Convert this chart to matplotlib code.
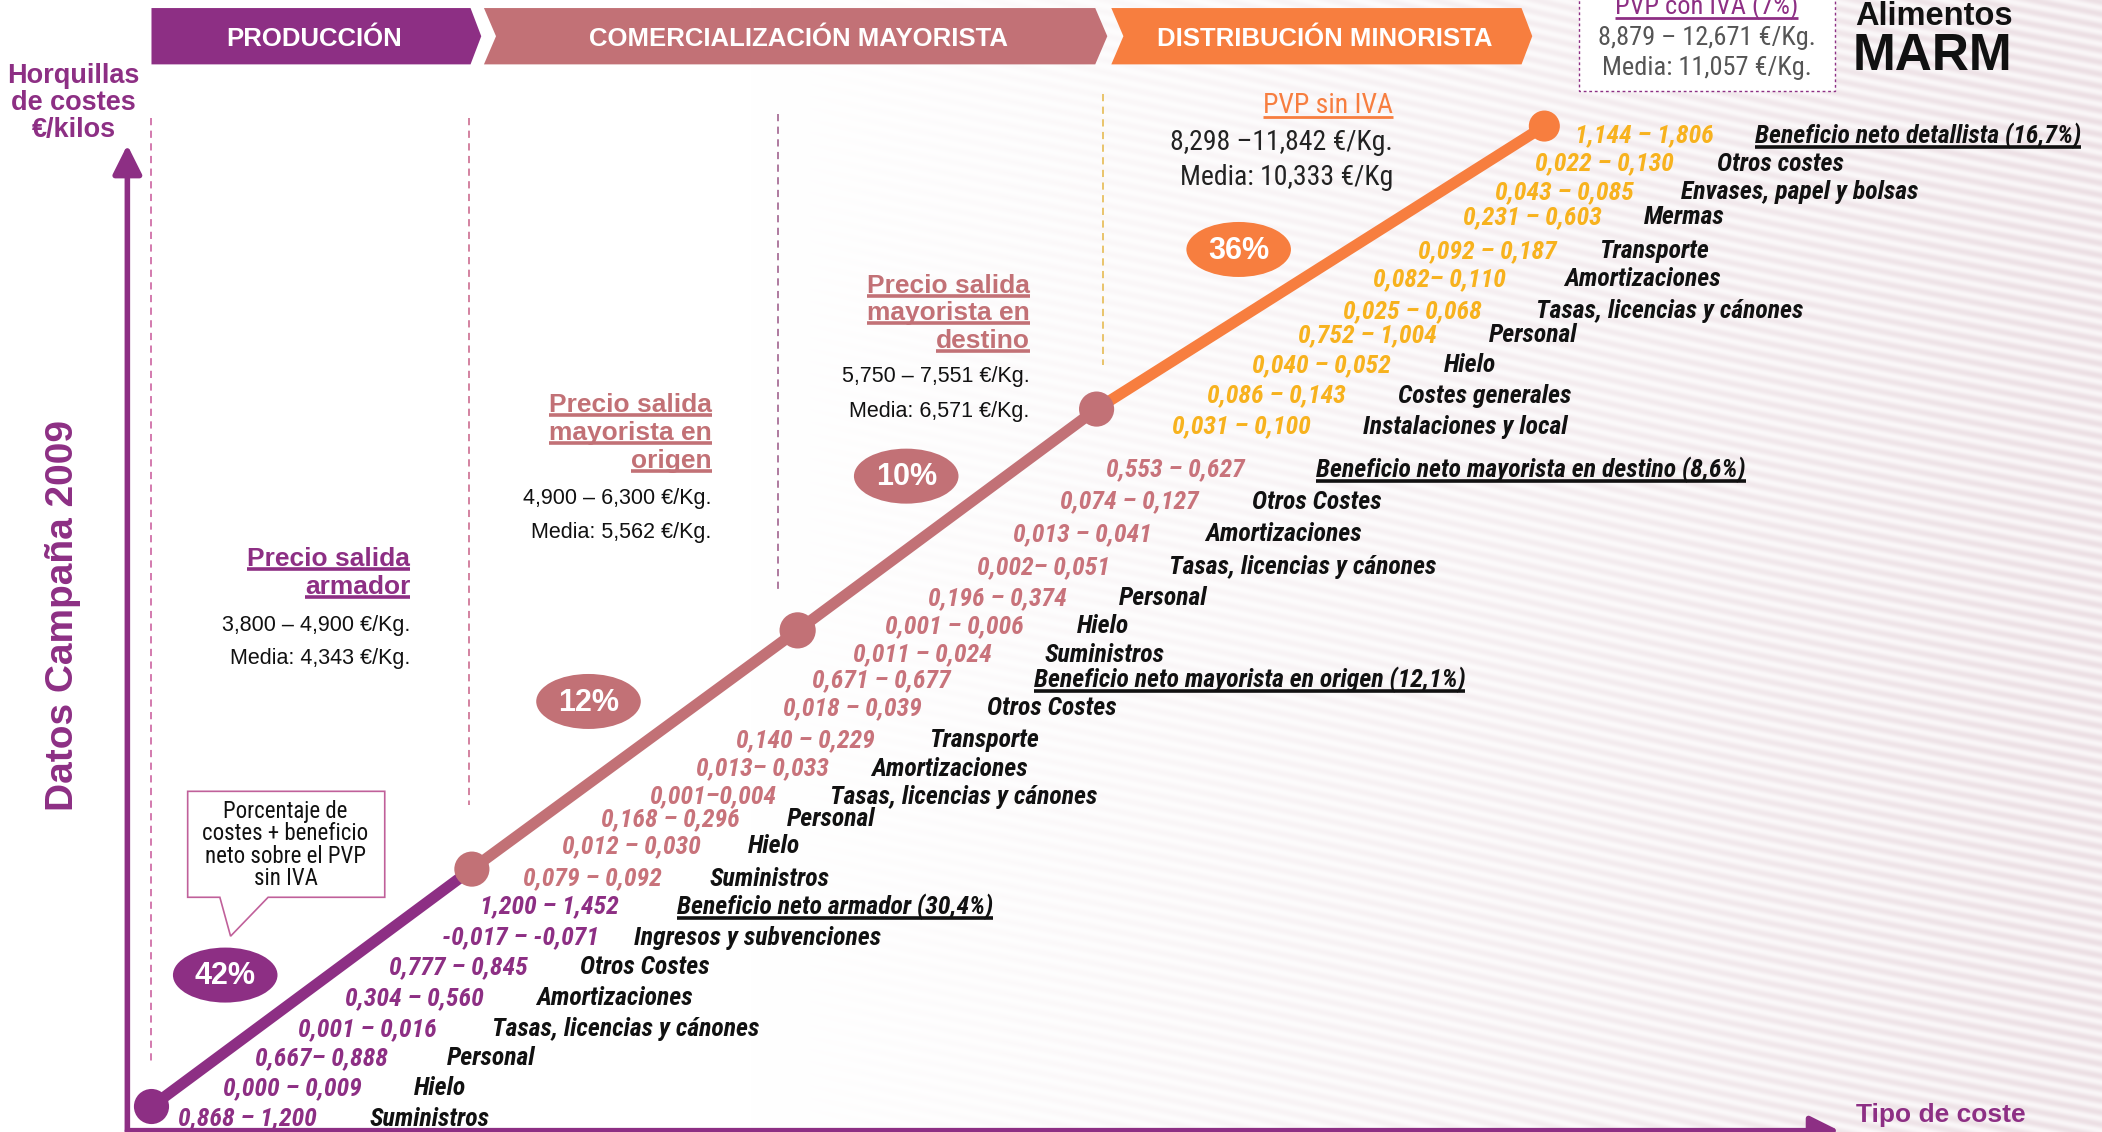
import numpy as np
import matplotlib.pyplot as plt
from matplotlib.patches import Polygon, Ellipse, Rectangle

# colores
PURPLE = '#8D2F84'
ROSE = '#C27176'
ROSE_TXT = '#C8737B'
ORANGE = '#F77E3F'
AMBER = '#F7B21E'

NARROW = ['Roboto Condensed', 'DejaVu Sans']
SANS = ['Liberation Sans', 'DejaVu Sans']

# ---- datos ----
stage_names = ['PRODUCCIÓN', 'COMERCIALIZACIÓN MAYORISTA', 'DISTRIBUCIÓN MINORISTA']
percent_labels = ['42%', '12%', '10%', '36%']

price_titles = [['Precio salida', 'armador'],
                ['Precio salida', 'mayorista en', 'origen'],
                ['Precio salida', 'mayorista en', 'destino']]
price_ranges = ['3,800 – 4,900 €/Kg.', '4,900 – 6,300 €/Kg.', '5,750 – 7,551 €/Kg.']
price_means = ['Media: 4,343 €/Kg.', 'Media: 5,562 €/Kg.', 'Media: 6,571 €/Kg.']
pvp_sin = ['PVP sin IVA', '8,298 –11,842 €/Kg.', 'Media: 10,333 €/Kg']
pvp_con = ['PVP con IVA (7%)', '8,879 – 12,671 €/Kg.', 'Media: 11,057 €/Kg.']

prod_ranges = ['0,868 – 1,200', '0,000 – 0,009', '0,667– 0,888', '0,001 – 0,016',
               '0,304 – 0,560', '0,777 – 0,845', '-0,017 – -0,071', '1,200 – 1,452']
prod_costs = ['Suministros', 'Hielo', 'Personal', 'Tasas, licencias y cánones',
              'Amortizaciones', 'Otros Costes', 'Ingresos y subvenciones',
              'Beneficio neto armador (30,4%)']

origen_ranges = ['0,079 – 0,092', '0,012 – 0,030', '0,168 – 0,296', '0,001–0,004',
                 '0,013– 0,033', '0,140 – 0,229', '0,018 – 0,039', '0,671 – 0,677']
origen_costs = ['Suministros', 'Hielo', 'Personal', 'Tasas, licencias y cánones',
                'Amortizaciones', 'Transporte', 'Otros Costes',
                'Beneficio neto mayorista en origen (12,1%)']

destino_ranges = ['0,011 – 0,024', '0,001 – 0,006', '0,196 – 0,374', '0,002– 0,051',
                  '0,013 – 0,041', '0,074 – 0,127', '0,553 – 0,627']
destino_costs = ['Suministros', 'Hielo', 'Personal', 'Tasas, licencias y cánones',
                 'Amortizaciones', 'Otros Costes',
                 'Beneficio neto mayorista en destino (8,6%)']

minor_ranges = ['0,031 – 0,100', '0,086 – 0,143', '0,040 – 0,052', '0,752 – 1,004',
                '0,025 – 0,068', '0,082– 0,110', '0,092 – 0,187', '0,231 – 0,603',
                '0,043 – 0,085', '0,022 – 0,130', '1,144 – 1,806']
minor_costs = ['Instalaciones y local', 'Costes generales', 'Hielo', 'Personal',
               'Tasas, licencias y cánones', 'Amortizaciones', 'Transporte', 'Mermas',
               'Envases, papel y bolsas', 'Otros costes',
               'Beneficio neto detallista (16,7%)']

# ---- maquetacion (unidades de la imagen 1568x844) ----
W, H = 1568, 844
prod_y = [834, 811, 789, 767, 744, 721, 699, 676]
prod_xv = [133, 166, 190, 222, 257, 290, 330, 358]
prod_xl = [276, 309, 333, 367, 400, 433, 473, 505]
origen_y = [655, 631, 611, 594, 573, 552, 528, 507]
origen_xv = [390, 419, 448, 484, 519, 549, 584, 606]
origen_xl = [529, 558, 587, 619, 650, 693, 736, 771]
destino_y = [488, 467, 446, 423, 398, 374, 350]
destino_xv = [636, 660, 692, 729, 756, 791, 825]
destino_xl = [779, 803, 835, 872, 899, 934, 982]
minor_y = [318, 295, 272, 250, 232, 208, 187, 162, 143, 122, 101]
minor_xv = [874, 900, 934, 968, 1002, 1024, 1058, 1091, 1115, 1145, 1175]
minor_xl = [1017, 1043, 1077, 1111, 1146, 1167, 1193, 1226, 1254, 1281, 1309]

node_x = [113, 352, 595, 818, 1152]
node_y = [825, 648, 470, 305, 94]
node_colors = [PURPLE, ROSE, ROSE, ROSE, ORANGE]

fig = plt.figure(figsize=(21.02, 11.32), dpi=100)
ax = fig.add_axes([0, 0, 1, 1])

# fondo con textura suave a la derecha
yy, xx = np.mgrid[0:H, 0:W]
t = np.clip((xx - 560) / 1000, 0, 1) ** 1.1
stripes = 0.5 + 0.5 * np.sin(2 * np.pi * (yy + 0.22 * (W - xx)) / 9.0 + 1.5 * np.sin(xx / 120.0))
amount = t * (0.35 + 0.9 * stripes)
tint = np.array([0.06, 0.10, 0.085])
img = 1 - amount[..., None] * tint
ax.imshow(img, extent=(0, W, H, 0), zorder=0, interpolation='bilinear', aspect='auto')
ax.set_xlim(0, W)
ax.set_ylim(H, 0)
ax.axis('off')

# cabeceras
banners = [
    [(113, 6), (351, 6), (359, 27), (351, 48), (113, 48)],
    [(361, 6), (817, 6), (826, 27), (817, 48), (361, 48), (370, 27)],
    [(829, 6), (1135, 6), (1143, 27), (1135, 48), (829, 48), (838, 27)],
]
banner_cols = [PURPLE, ROSE, ORANGE]
banner_cx = [234, 596, 988]
for pts, col, cx, name in zip(banners, banner_cols, banner_cx, stage_names):
    ax.add_patch(Polygon(pts, closed=True, facecolor=col, edgecolor='none', zorder=2))
    ax.text(cx, 29, name, color='white', fontsize=18.5, fontweight='bold',
            family=SANS, ha='center', va='center', zorder=3)

# lineas discontinuas
for x, y0, y1, c in [(113, 88, 793, '#D070A8'), (350, 88, 600, '#D07898'),
                     (580, 85, 440, '#A87098'), (823, 70, 272, '#E8C060')]:
    ax.plot([x, x], [y0, y1], ls=(0, (4, 3)), color=c, lw=1.3, zorder=1)

# ejes con flecha
ax.annotate('', xy=(95, 106), xytext=(95, 848),
            arrowprops=dict(arrowstyle='-|>,head_length=0.8,head_width=0.4',
                            color=PURPLE, lw=4, mutation_scale=22), zorder=4)
ax.annotate('', xy=(1374, 843), xytext=(93, 843),
            arrowprops=dict(arrowstyle='-|>,head_length=0.8,head_width=0.4',
                            color=PURPLE, lw=4, mutation_scale=22), zorder=4)

for i, s in enumerate(['Horquillas', 'de costes', '€/kilos']):
    ax.text(55, 57 + 20 * i, s, color=PURPLE, fontsize=19.5, fontweight='bold',
            family=SANS, ha='center', va='center')
ax.text(47, 459, 'Datos Campaña 2009', color=PURPLE, fontsize=28, fontweight='bold',
        family=SANS, rotation=90, ha='center', va='center')
ax.text(1448, 831, 'Tipo de coste', color=PURPLE, fontsize=19, fontweight='bold',
        family=SANS, ha='center', va='center')

# linea diagonal de precios
seg_cols = [PURPLE, ROSE, ROSE, ORANGE]
for i, c in enumerate(seg_cols):
    ax.plot(node_x[i:i + 2], node_y[i:i + 2], color=c, lw=8, solid_capstyle='round', zorder=5)
ax.scatter(node_x, node_y, s=[640, 640, 680, 640, 500], c=node_colors, zorder=6, linewidths=0)

# porcentajes
pct_xy = [(168, 727), (439, 523), (676, 355), (924, 186)]
pct_cols = [PURPLE, ROSE, ROSE, ORANGE]
for (x, y), c, lab in zip(pct_xy, pct_cols, percent_labels):
    ax.add_patch(Ellipse((x, y), 78, 41, facecolor=c, edgecolor='none', zorder=5))
    ax.text(x, y + 1, lab, color='white', fontsize=22, fontweight='bold',
            family=SANS, ha='center', va='center', zorder=6)

# bocadillo
ax.add_patch(Polygon([(140, 590), (287, 590), (287, 669), (200, 669), (172, 698),
                      (164, 669), (140, 669)], closed=True, facecolor='white',
                     edgecolor='#C0609A', lw=1.2, zorder=4))
ax.text(213, 630, 'Porcentaje de\ncostes + beneficio\nneto sobre el PVP\nsin IVA',
        fontsize=16.5, family=NARROW, ha='center', va='center', linespacing=0.95,
        color='#111111', zorder=5)

underlines = []

# precios de salida
title_right = [306, 531, 768]
title_y0 = [417, 302, 213]
title_cols = [PURPLE, ROSE, ROSE]
vals_y = [(466, 491), (372, 397), (281, 307)]
for k in range(3):
    for j, line in enumerate(price_titles[k]):
        tt = ax.text(title_right[k], title_y0[k] + 20.7 * j, line, color=title_cols[k],
                     fontsize=19, fontweight='bold', family=SANS, ha='right', va='center')
        underlines.append((tt, title_cols[k], 2.6))
    ax.text(title_right[k], vals_y[k][0], price_ranges[k], fontsize=15.5, family=SANS,
            ha='right', va='center', color='#111111')
    ax.text(title_right[k], vals_y[k][1], price_means[k], fontsize=15.5, family=SANS,
            ha='right', va='center', color='#111111')

# PVP sin IVA
tt = ax.text(1039, 79, pvp_sin[0], color=ORANGE, fontsize=20, family=NARROW,
             ha='right', va='center')
underlines.append((tt, ORANGE, 2.0))
ax.text(1039, 106, pvp_sin[1], fontsize=20, family=NARROW, ha='right', va='center', color='#222222')
ax.text(1039, 132, pvp_sin[2], fontsize=20, family=NARROW, ha='right', va='center', color='#222222')

# PVP con IVA
ax.add_patch(Rectangle((1178, -3), 191, 71, facecolor='white', edgecolor=PURPLE,
                       lw=1.0, ls=(0, (2, 2)), zorder=3))
tt = ax.text(1273, 5, pvp_con[0], color=PURPLE, fontsize=19, family=NARROW,
             ha='center', va='center', zorder=4)
underlines.append((tt, PURPLE, 2.0))
ax.text(1273, 28, pvp_con[1], fontsize=19, family=NARROW, ha='center', va='center',
        color='#555555', zorder=4)
ax.text(1273, 51, pvp_con[2], fontsize=19, family=NARROW, ha='center', va='center',
        color='#555555', zorder=4)

# logo
ax.text(1384, 12, 'Alimentos', fontsize=23.5, fontweight='bold', family=SANS,
        ha='left', va='center', color='#111111')
ax.text(1382, 42, 'MARM', fontsize=37, fontweight='bold', family=SANS,
        ha='left', va='center', color='#111111')

# filas de costes
groups = [
    (prod_ranges, prod_costs, prod_y, prod_xv, prod_xl, PURPLE),
    (origen_ranges, origen_costs, origen_y, origen_xv, origen_xl, ROSE_TXT),
    (destino_ranges, destino_costs, destino_y, destino_xv, destino_xl, ROSE_TXT),
    (minor_ranges, minor_costs, minor_y, minor_xv, minor_xl, AMBER),
]
for rng, costs, ys, xvs, xls, col in groups:
    for i, (r, c, y, xv, xl) in enumerate(zip(rng, costs, ys, xvs, xls)):
        ax.text(xv, y, r, color=col, fontsize=18.5, fontweight='bold', style='italic',
                family=NARROW, ha='left', va='center', zorder=7)
        tt = ax.text(xl, y, c, color='#111111', fontsize=18.5, fontweight='bold',
                     style='italic', family=NARROW, ha='left', va='center', zorder=7)
        if i == len(costs) - 1:
            underlines.append((tt, '#111111', 2.6))

# subrayados
fig.canvas.draw()
renderer = fig.canvas.get_renderer()
inv = ax.transData.inverted()
for tt, col, lw in underlines:
    bb = tt.get_window_extent(renderer)
    x0, yb = inv.transform((bb.x0, bb.y0))
    x1, _ = inv.transform((bb.x1, bb.y0))
    ax.plot([x0, x1], [yb - 1.5, yb - 1.5], color=col, lw=lw, zorder=7,
            solid_capstyle='butt')

fig.savefig('out.png', dpi=100)
